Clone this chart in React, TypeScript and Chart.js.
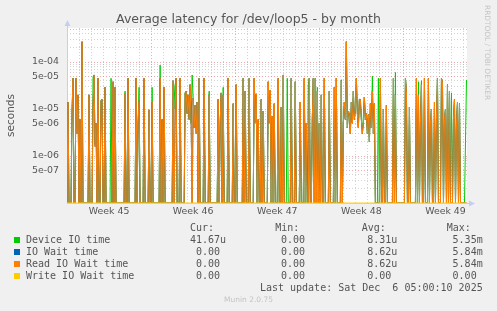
import React, { useEffect, useRef } from 'react';
import { Chart, registerables } from 'chart.js';

Chart.register(...registerables);

// ---- data (values in microseconds, one value per 2-hour step, 400 steps) ----
const STEP_HOURS = 2;
const X_MAX_HOURS = 799;
const Y_MIN = 1e-7;
const Y_MAX = 5.29e-4;

const weekLabels = ['Week 45', 'Week 46', 'Week 47', 'Week 48', 'Week 49'];
const yTickValues = [5e-7, 1e-6, 5e-6, 1e-5, 5e-5, 1e-4];
const yTickLabels = ['5e-07', '1e-06', '5e-06', '1e-05', '5e-05', '1e-04'];

const readIoWaitUs: number[] = [
  0, 14, 0, 0, 0, 8, 45, 0, 0, 45, 3, 20, 0, 6, 0, 270, 0, 0, 0, 0,
  0, 0, 20, 0, 0, 0, 12, 53, 1.6, 5, 0, 45, 0, 0, 15, 16, 0, 0, 29, 0,
  0, 0, 0, 0, 0, 0, 38, 0, 29, 0, 0, 0, 0, 0, 0, 0, 0, 0, 21, 0,
  0, 45, 0, 0, 0, 0, 0, 0, 0, 45, 0, 5, 15, 0, 0, 0, 0, 45, 0, 0,
  0, 0, 9.6, 0, 0, 14, 0, 0, 0, 0, 0, 0, 0, 45, 0, 6, 0, 29, 0, 0,
  0, 0, 0, 0, 0, 0, 40, 0, 10, 45, 0, 0, 0, 45, 0, 0, 0, 0, 22, 24,
  8, 20, 6, 33, 5, 0, 17, 4, 12, 3, 14, 0, 45, 0, 0, 0, 0, 45, 0, 0,
  0, 0, 20, 0, 0, 0, 0, 0, 0, 0, 0, 16, 0, 5, 22, 0, 20, 0, 0, 0,
  0, 45, 0, 0, 0, 0, 13, 0, 0, 33, 0, 0, 0, 0, 0, 0, 45, 0, 24, 0,
  0, 0, 45, 0, 0, 0, 0, 45, 5, 21, 0, 6, 0, 0, 16, 0, 9, 0, 0, 0,
  0, 38, 5, 25, 0, 7, 0, 13, 0, 0, 0, 45, 0, 0, 11, 0, 53, 0, 0, 0,
  0, 0, 0, 0, 45, 0, 0, 0, 38, 0, 0, 0, 0, 14, 0, 0, 0, 45, 0, 5,
  0, 0, 45, 0, 0, 6, 45, 0, 45, 0, 24, 0, 5, 0, 20, 0, 0, 45, 0, 0,
  0, 0, 24, 0, 0, 0, 0, 29, 0, 45, 0, 0, 0, 0, 40, 0, 5, 14, 6, 270,
  4, 9, 7.6, 3, 14, 5, 24, 6, 10, 45, 8, 4, 16, 16, 6, 3, 5, 18, 6, 8,
  3, 7.6, 2, 13, 4, 24, 3, 13, 0, 0, 0, 0, 0, 45, 0, 0, 10, 0, 0, 12,
  0, 0, 0, 0, 0, 0, 45, 0, 20, 0, 0, 0, 0, 0, 0, 0, 0, 0, 45, 24,
  0, 0, 11, 0, 0, 0, 0, 0, 0, 45, 0, 20, 0, 5, 33, 0, 0, 45, 0, 0,
  0, 45, 0, 5, 10, 0, 0, 14, 0, 6, 45, 0, 0, 0, 45, 38, 0, 6, 10, 0,
  33, 0, 24, 0, 0, 0, 6, 16, 0, 5, 14, 0, 13, 0, 0, 0, 0, 0, 0, 0,
];

const deviceIoUs: number[] = [
  0, 14, 0, 0, 0, 8, 45, 0, 0, 45, 4, 20, 0, 6, 0, 270, 0, 0, 0, 0,
  0, 0, 20, 0, 0, 0, 48, 53, 1.8, 5, 0, 45, 0, 0, 15, 16, 0, 0, 29, 0,
  0, 0, 0, 0, 45, 0, 38, 0, 29, 0, 0, 0, 0, 0, 0, 0, 0, 0, 24, 0,
  0, 45, 0, 0, 0, 0, 0, 0, 0, 45, 0, 5, 29, 0, 0, 0, 0, 45, 0, 0,
  0, 0, 9.6, 0, 0, 29, 0, 0, 0, 0, 0, 0, 0, 86, 0, 6, 0, 29, 0, 0,
  0, 0, 0, 0, 0, 0, 40, 31, 10, 45, 0, 0, 0, 45, 0, 0, 0, 0, 22, 24,
  8, 20, 6, 33, 5, 53, 17, 4, 12, 4, 14, 0, 45, 0, 0, 0, 0, 45, 0, 0,
  0, 0, 24, 0, 0, 0, 0, 0, 0, 0, 0, 16, 0, 5, 22, 0, 29, 0, 0, 0,
  0, 45, 0, 0, 0, 0, 13, 0, 0, 33, 0, 0, 0, 0, 0, 0, 45, 0, 24, 0,
  0, 0, 45, 0, 0, 0, 0, 45, 5, 21, 0, 6, 0, 0, 16, 0, 9, 0, 0, 0,
  0, 38, 5, 25, 0, 7, 0, 13, 0, 0, 0, 45, 0, 0, 11, 0, 53, 0, 0, 0,
  45, 0, 0, 0, 45, 0, 0, 0, 38, 0, 0, 0, 0, 14, 0, 0, 0, 45, 0, 5,
  0, 33, 45, 0, 0, 6, 45, 0, 45, 0, 29, 0, 5, 0, 20, 0, 0, 45, 0, 0,
  0, 0, 24, 0, 0, 0, 0, 29, 0, 45, 0, 0, 0, 0, 42, 0, 5, 14, 6, 270,
  4, 9, 7.6, 3, 14, 5, 24, 6, 10, 45, 8, 4, 16, 16, 6, 3, 7, 18, 6, 8,
  3, 7.6, 2, 13, 4, 50, 3, 13, 0, 0, 0, 45, 0, 45, 0, 0, 10, 0, 0, 12,
  0, 0, 0, 0, 0, 0, 45, 0, 60, 0, 0, 0, 0, 0, 0, 0, 0, 0, 45, 24,
  0, 0, 11, 0, 0, 0, 0, 0, 0, 45, 0, 38, 0, 5, 40, 0, 0, 45, 0, 0,
  0, 45, 0, 5, 10, 0, 0, 14, 0, 6, 45, 0, 0, 0, 45, 38, 0, 6, 10, 0,
  33, 0, 24, 0, 22, 0, 6, 16, 0, 5, 14, 0, 13, 0, 0, 0, 0, 0, 2, 41.67,
];

// IO Wait time is identical to Read IO Wait time in the source graph
const ioWaitUs: number[] = readIoWaitUs;

const writeIoWaitUs: number[] = [
  0, 0, 0, 0, 0, 0, 0, 0, 0, 0, 0, 0, 0, 0, 0, 0, 0, 0, 0, 0, 0, 0, 0, 0, 0, 0, 0, 0, 0, 0, 0, 0, 0, 0, 0, 0, 0, 0, 0, 0, 0, 0, 0, 0, 0, 0, 0, 0, 0, 0,
  0, 0, 0, 0, 0, 0, 0, 0, 0, 0, 0, 0, 0, 0, 0, 0, 0, 0, 0, 0, 0, 0, 0, 0, 0, 0, 0, 0, 0, 0, 0, 0, 0, 0, 0, 0, 0, 0, 0, 0, 0, 0, 0, 0, 0, 0, 0, 0, 0, 0,
  0, 0, 0, 0, 0, 0, 0, 0, 0, 0, 0, 0, 0, 0, 0, 0, 0, 0, 0, 0, 0, 0, 0, 0, 0, 0, 0, 0, 0, 0, 0, 0, 0, 0, 0, 0, 0, 0, 0, 0, 0, 0, 0, 0, 0, 0, 0, 0, 0, 0,
  0, 0, 0, 0, 0, 0, 0, 0, 0, 0, 0, 0, 0, 0, 0, 0, 0, 0, 0, 0, 0, 0, 0, 0, 0, 0, 0, 0, 0, 0, 0, 0, 0, 0, 0, 0, 0, 0, 0, 0, 0, 0, 0, 0, 0, 0, 0, 0, 0, 0,
  0, 0, 0, 0, 0, 0, 0, 0, 0, 0, 0, 0, 0, 0, 0, 0, 0, 0, 0, 0, 0, 0, 0, 0, 0, 0, 0, 0, 0, 0, 0, 0, 0, 0, 0, 0, 0, 0, 0, 0, 0, 0, 0, 0, 0, 0, 0, 0, 0, 0,
  0, 0, 0, 0, 0, 0, 0, 0, 0, 0, 0, 0, 0, 0, 0, 0, 0, 0, 0, 0, 0, 0, 0, 0, 0, 0, 0, 0, 0, 0, 0, 0, 0, 0, 0, 0, 0, 0, 0, 0, 0, 0, 0, 0, 0, 0, 0, 0, 0, 0,
  0, 0, 0, 0, 0, 0, 0, 0, 0, 0, 0, 0, 0, 0, 0, 0, 0, 0, 0, 0, 0, 0, 0, 0, 0, 0, 0, 0, 0, 0, 0, 0, 0, 0, 0, 0, 0, 0, 0, 0, 0, 0, 0, 0, 0, 0, 0, 0, 0, 0,
  0, 0, 0, 0, 0, 0, 0, 0, 0, 0, 0, 0, 0, 0, 0, 0, 0, 0, 0, 0, 0, 0, 0, 0, 0, 0, 0, 0, 0, 0, 0, 0, 0, 0, 0, 0, 0, 0, 0, 0, 0, 0, 0, 0, 0, 0, 0, 0, 0, 0,
];

// ---- legend / stats ----
const seriesNames = ['Device IO time', 'IO Wait time', 'Read IO Wait time', 'Write IO Wait time'];
const seriesColors = ['#00cc00', '#0066b3', '#ff8000', '#ffcc00'];
const curValues = ['41.67u', '0.00 ', '0.00 ', '0.00 '];
const minValues = ['0.00 ', '0.00 ', '0.00 ', '0.00 '];
const avgValues = ['8.31u', '8.62u', '8.62u', '0.00 '];
const maxValues = ['5.35m', '5.84m', '5.84m', '0.00 '];
const statHeaders = ['Cur:', 'Min:', 'Avg:', 'Max:'];

const TITLE = 'Average latency for /dev/loop5 - by month';
const LAST_UPDATE = 'Last update: Sat Dec  6 05:00:10 2025';

const FONT = "'DejaVu Sans', Verdana, sans-serif";
const MONO = "'DejaVu Sans Mono', monospace";
const TEXT = '#555555';
const AXIS = '#c8ccf4';
const GRID_MINOR = 'rgba(143,143,143,0.38)';
const GRID_MAJOR = 'rgba(222,60,60,0.42)';

function mantissa(v: number): number {
  const e = Math.floor(Math.log10(v) + 1e-9);
  return Math.round(v / Math.pow(10, e));
}

export default function App() {
  const canvasRef = useRef<HTMLCanvasElement>(null);

  useEffect(() => {
    const canvas = canvasRef.current;
    if (!canvas) return;

    const toPoints = (arr: number[]) =>
      arr.map((v, i) => ({ x: i * STEP_HOURS, y: v > 0 ? v * 1e-6 : Y_MIN }));

    const xTicks: { value: number }[] = [];
    for (let h = 0; h <= X_MAX_HOURS; h += 12) xTicks.push({ value: h });
    const yTicks: { value: number }[] = [];
    for (let e = -7; e <= -4; e++) {
      for (let m = 1; m <= 9; m++) {
        const v = m * Math.pow(10, e);
        if (v <= Y_MAX * 1.0001) yTicks.push({ value: v });
      }
    }

    const bgPlugin = {
      id: 'bg',
      beforeDraw(chart: any) {
        const { ctx, chartArea: a } = chart;
        ctx.save();
        ctx.fillStyle = '#ffffff';
        ctx.fillRect(a.left, a.top, a.right - a.left, a.bottom - a.top);
        ctx.restore();
      },
    };

    const axisPlugin = {
      id: 'axes',
      beforeDatasetsDraw(chart: any) {
        const { ctx, chartArea: a } = chart;
        ctx.save();
        ctx.strokeStyle = AXIS;
        ctx.fillStyle = AXIS;
        ctx.lineWidth = 1;
        const lx = Math.round(a.left) + 0.5;
        const by = Math.round(a.bottom) + 0.5;
        ctx.beginPath();
        ctx.moveTo(lx, by);
        ctx.lineTo(lx, a.top - 3);
        ctx.moveTo(lx, by);
        ctx.lineTo(a.right + 3, by);
        ctx.stroke();
        ctx.beginPath();
        ctx.moveTo(lx - 3, a.top - 2);
        ctx.lineTo(lx + 3, a.top - 2);
        ctx.lineTo(lx, a.top - 8);
        ctx.closePath();
        ctx.fill();
        ctx.beginPath();
        ctx.moveTo(a.right + 2, by - 3);
        ctx.lineTo(a.right + 2, by + 3);
        ctx.lineTo(a.right + 8, by);
        ctx.closePath();
        ctx.fill();
        ctx.restore();
      },
    };

    const ds = (label: string, data: number[], color: string, order: number) => ({
      label,
      data: toPoints(data),
      borderColor: color,
      backgroundColor: color,
      borderWidth: 1,
      pointRadius: 0,
      tension: 0,
      fill: false,
      order,
    });

    const chart = new Chart(canvas, {
      type: 'line',
      data: {
        datasets: [
          ds(seriesNames[0], deviceIoUs, seriesColors[0], 4),
          ds(seriesNames[1], ioWaitUs, seriesColors[1], 3),
          ds(seriesNames[2], readIoWaitUs, seriesColors[2], 2),
          ds(seriesNames[3], writeIoWaitUs, seriesColors[3], 1),
        ],
      },
      options: {
        responsive: false,
        animation: false,
        devicePixelRatio: 1,
        layout: { padding: { left: 0, right: 30, top: 28, bottom: 88 } },
        plugins: {
          legend: { display: false },
          tooltip: { enabled: false },
          title: { display: false },
        },
        scales: {
          x: {
            type: 'linear',
            min: 0,
            max: X_MAX_HOURS,
            afterBuildTicks: (scale: any) => {
              scale.ticks = xTicks.map((t) => ({ value: t.value }));
            },
            afterFit: (scale: any) => {
              scale.height = 20;
            },
            ticks: {
              autoSkip: false,
              maxRotation: 0,
              padding: 3,
              color: TEXT,
              font: { family: FONT, size: 9.4 },
              callback: (value: any) => {
                const v = Number(value);
                if ((v - 84) % 168 === 0) {
                  const idx = (v - 84) / 168;
                  return weekLabels[idx] ?? '';
                }
                return '';
              },
            },
            grid: {
              drawTicks: false,
              color: (ctx: any) => {
                const v = ctx.tick ? ctx.tick.value : -1;
                if (v % 168 === 0) return GRID_MAJOR;
                return GRID_MINOR;
              },
              lineWidth: (ctx: any) => {
                const v = ctx.tick ? ctx.tick.value : -1;
                return v >= 0 && v % 24 === 0 ? 1 : 0;
              },
            },
            border: { display: false, dash: [1, 2] },
          },
          y: {
            type: 'logarithmic',
            min: Y_MIN,
            max: Y_MAX,
            afterBuildTicks: (scale: any) => {
              scale.ticks = yTicks.map((t) => ({ value: t.value }));
            },
            afterFit: (scale: any) => {
              scale.width = 67;
            },
            ticks: {
              autoSkip: false,
              padding: 8,
              color: TEXT,
              font: { family: FONT, size: 9.4 },
              callback: (value: any) => {
                const v = Number(value);
                for (let i = 0; i < yTickValues.length; i++) {
                  if (Math.abs(v / yTickValues[i] - 1) < 1e-6) return yTickLabels[i];
                }
                return '';
              },
            },
            grid: {
              drawTicks: false,
              color: (ctx: any) => {
                const v = ctx.tick ? ctx.tick.value : 0;
                if (!v) return GRID_MINOR;
                const m = mantissa(v);
                return m === 1 || m === 5 ? GRID_MAJOR : GRID_MINOR;
              },
              lineWidth: 1,
            },
            border: { display: false, dash: [1, 2] },
            title: {
              display: true,
              text: 'seconds',
              color: TEXT,
              font: { family: FONT, size: 10.5 },
              padding: { top: 5, bottom: 0 },
            },
          },
        },
      },
      plugins: [bgPlugin, axisPlugin],
    } as any);

    return () => chart.destroy();
  }, []);

  const abs = (o: React.CSSProperties): React.CSSProperties => ({ position: 'absolute', margin: 0, ...o });
  const cell = (right: number, top: number, text: string, key: string, width = 80) => (
    <div
      key={key}
      style={abs({
        left: right - width,
        top,
        width,
        textAlign: 'right',
        whiteSpace: 'pre',
        font: `10px ${MONO}`,
        lineHeight: '12px',
        color: TEXT,
      })}
    >
      {text}
    </div>
  );

  const rowTops = [234, 246, 258, 270];
  const colRights = [226, 311, 397.3, 482.7];
  const headerLefts = [190, 275.3, 361.7, 446.7];

  return (
    <div
      style={abs({
        left: 0,
        top: 0,
        width: 497,
        height: 311,
        background: '#f0f0f0',
        overflow: 'hidden',
      })}
    >
      <canvas ref={canvasRef} width={497} height={311} style={{ position: 'absolute', left: 0, top: 0, width: 497, height: 311 }} />
      <div
        style={abs({
          left: 0,
          top: 11,
          width: 497,
          textAlign: 'center',
          font: `12.5px ${FONT}`,
          lineHeight: '16px',
          color: TEXT,
          whiteSpace: 'pre',
        })}
      >
        {TITLE}
      </div>
      <div
        style={abs({
          left: 483,
          top: 5,
          writingMode: 'vertical-rl',
          font: `7.4px ${FONT}`,
          lineHeight: '9px',
          color: '#c4c4c4',
          whiteSpace: 'pre',
        })}
      >
        RRDTOOL / TOBI OETIKER
      </div>
      {statHeaders.map((h, i) => (
        <div
          key={'h' + i}
          style={abs({ left: headerLefts[i], top: 222, font: `10px ${MONO}`, lineHeight: '12px', color: TEXT, whiteSpace: 'pre' })}
        >
          {h}
        </div>
      ))}
      {seriesNames.map((name, r) => (
        <React.Fragment key={'r' + r}>
          <div style={abs({ left: 14, top: rowTops[r] + 3, width: 6, height: 6, background: seriesColors[r] })} />
          <div style={abs({ left: 26, top: rowTops[r], font: `10px ${MONO}`, lineHeight: '12px', color: TEXT, whiteSpace: 'pre' })}>
            {name}
          </div>
          {cell(colRights[0], rowTops[r], curValues[r], 'c' + r)}
          {cell(colRights[1], rowTops[r], minValues[r], 'm' + r)}
          {cell(colRights[2], rowTops[r], avgValues[r], 'a' + r)}
          {cell(colRights[3], rowTops[r], maxValues[r], 'x' + r)}
        </React.Fragment>
      ))}
      {cell(482.7, 282, LAST_UPDATE, 'lu', 300)}
      <div
        style={abs({
          left: 0,
          top: 295,
          width: 497,
          textAlign: 'center',
          font: `7.5px ${FONT}`,
          lineHeight: '10px',
          color: '#c4c4c4',
        })}
      >
        Munin 2.0.75
      </div>
    </div>
  );
}
